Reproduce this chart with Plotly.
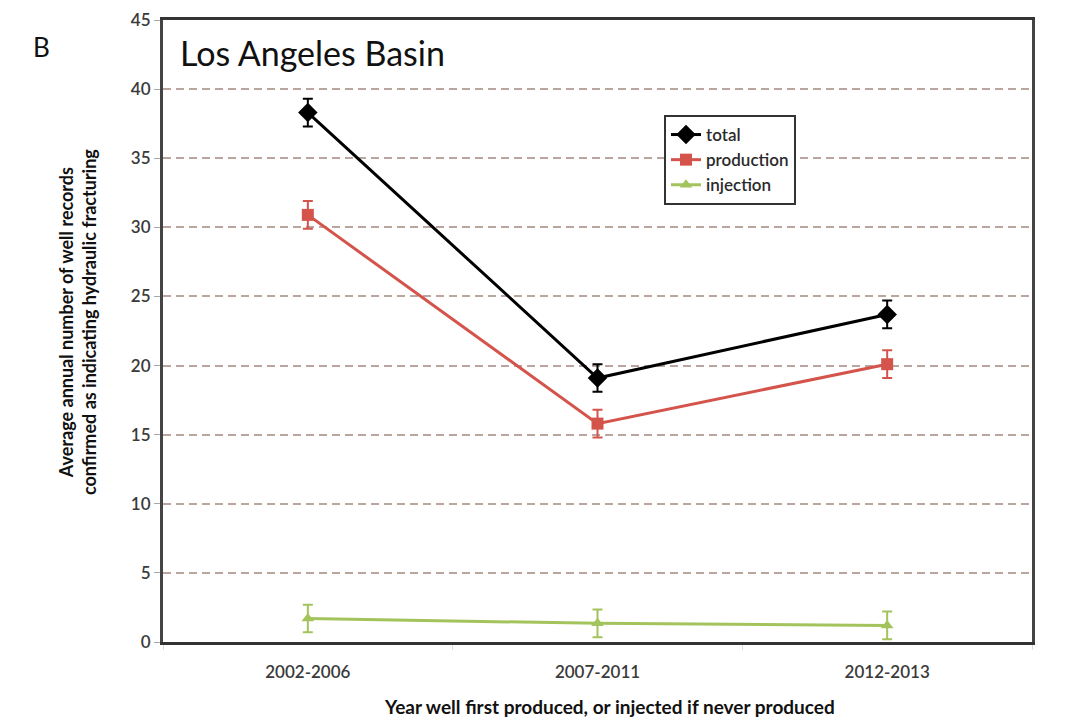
import plotly.graph_objects as go

categories = ["2002-2006", "2007-2011", "2012-2013"]
total = [38.3, 19.1, 23.7]
total_err = [1.0, 1.0, 1.0]
production = [30.9, 15.8, 20.1]
production_err = [1.0, 1.0, 1.0]
injection = [1.7, 1.35, 1.2]
injection_err = [1.0, 1.0, 1.0]

FONT = "Lato, 'Open Sans', sans-serif"

# figure sits inside the page's 8px body margin
W, H = 1063, 716
L, T, PW, PH = 155, 12, 869, 622

fig = go.Figure()

def add(name, y, err, color, symbol, size):
    fig.add_trace(go.Scatter(
        x=categories, y=y, name=name, mode="lines+markers",
        line=dict(color=color, width=3),
        marker=dict(symbol=symbol, size=size, color=color),
        error_y=dict(type="data", array=err, visible=True, color=color,
                     thickness=2, width=5),
    ))

add("total", total, total_err, "#000000", "diamond", 15)
add("production", production, production_err, "#d4544c", "square", 12)
add("injection", injection, injection_err, "#a3c45c", "triangle-up", 11)

def px(xp):
    return (xp - 8 - L) / PW

def py(yp):
    return 1 - (yp - 8 - T) / PH

fig.update_layout(
    width=W, height=H,
    margin=dict(l=L, r=W - L - PW, t=T, b=H - T - PH, autoexpand=False),
    paper_bgcolor="white", plot_bgcolor="white",
    font=dict(family=FONT, color="#333333"),
    showlegend=True,
    legend=dict(x=px(664), y=py(115), xanchor="left", yanchor="top",
                bordercolor="#333333", borderwidth=2, bgcolor="white",
                font=dict(size=17, color="#2a2a2a", weight=600),
                tracegroupgap=0, itemwidth=30),
    xaxis=dict(
        type="category", range=[-0.5, 2.5], automargin=False,
        showline=True, linecolor="#333333", linewidth=3, mirror=True,
        showgrid=False, ticks="outside", tickson="boundaries",
        ticklen=5, tickcolor="#dddddd", ticklabelstandoff=13,
        tickfont=dict(size=17, color="#3a3a3a", weight=600),
    ),
    yaxis=dict(
        range=[0, 45], dtick=5, tick0=0, automargin=False,
        showline=True, linecolor="#444444", linewidth=3, mirror=True,
        showgrid=True, gridcolor="#bba59f", gridwidth=1.8, griddash="8px,5px",
        zeroline=False,
        ticks="outside", ticklen=6, tickcolor="#aaaaaa",
        tickfont=dict(size=17, color="#3a3a3a", weight=600),
    ),
)

fig.add_annotation(x=px(178), y=py(30), xref="paper", yref="paper",
                   xanchor="left", yanchor="top", showarrow=False,
                   text="Los Angeles Basin",
                   font=dict(size=34, color="#111111", family=FONT))
fig.add_annotation(x=px(41), y=py(47), xref="paper", yref="paper",
                   showarrow=False, xanchor="center", yanchor="middle",
                   text="B", font=dict(size=26, color="#111111", family=FONT))
fig.add_annotation(x=px(77), y=py(322), xref="paper", yref="paper",
                   showarrow=False, xanchor="center", yanchor="middle",
                   textangle=-90,
                   text="<b>Average annual number of well records<br>confirmed as indicating hydraulic fracturing</b>",
                   font=dict(size=18, color="#111111", family=FONT))
fig.add_annotation(x=px(609), y=py(706), xref="paper", yref="paper",
                   showarrow=False, xanchor="center", yanchor="middle",
                   text="<b>Year well first produced, or injected if never produced</b>",
                   font=dict(size=19, color="#111111", family=FONT))

fig.write_html("out.html")
